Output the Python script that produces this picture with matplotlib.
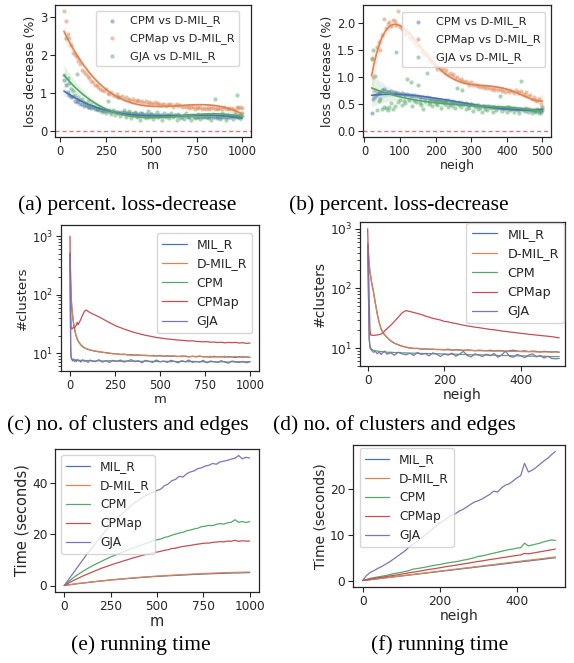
import numpy as np
import matplotlib
matplotlib.use("Agg")
import matplotlib.pyplot as plt
import seaborn as sns
import warnings
warnings.filterwarnings("ignore")

# ---------------- data ----------------
# (a) loss decrease vs m
m_a = list(range(20, 1001, 10))
cpm_a = [1.35, 1.20, 1.02, 0.95, 0.88, 0.92, 0.80, 0.76, 0.78, 0.70,
         0.72, 0.66, 0.68, 0.62, 0.64, 0.60, 0.62, 0.58, 0.57, 0.60,
         0.55, 0.56, 0.53, 0.55, 0.52, 0.54, 0.50, 0.52, 0.49, 0.51,
         0.48, 0.50, 0.47, 0.49, 0.46, 0.48, 0.45, 0.47, 0.44, 0.46,
         0.45, 0.43, 0.46, 0.44, 0.42, 0.45, 0.43, 0.41, 0.44, 0.42,
         0.43, 0.40, 0.43, 0.41, 0.42, 0.40, 0.43, 0.41, 0.39, 0.42,
         0.40, 0.41, 0.39, 0.42, 0.40, 0.38, 0.41, 0.39, 0.40, 0.38,
         0.41, 0.39, 0.37, 0.40, 0.38, 0.40, 0.37, 0.39, 0.38, 0.40,
         0.37, 0.39, 0.38, 0.36, 0.39, 0.37, 0.38, 0.36, 0.39, 0.37,
         0.38, 0.40, 0.37, 0.39, 0.38, 0.40, 0.39, 0.41, 0.40]
cpmap_a = [3.15, 2.90, 2.55, 2.45, 2.25, 2.05, 2.00, 1.95, 1.85, 1.75,
           1.60, 1.55, 1.50, 1.45, 1.38, 1.30, 1.28, 1.22, 1.20, 1.15,
           1.10, 1.08, 1.05, 1.10, 1.00, 0.98, 1.02, 0.95, 0.92, 0.96,
           0.90, 0.88, 0.92, 0.85, 0.88, 0.82, 0.85, 0.80, 0.83, 0.78,
           0.80, 0.82, 0.76, 0.78, 0.74, 0.79, 0.72, 0.76, 0.74, 0.70,
           0.75, 0.71, 0.73, 0.68, 0.72, 0.70, 0.66, 0.70, 0.68, 0.72,
           0.64, 0.67, 0.70, 0.65, 0.68, 0.63, 0.66, 0.62, 0.65, 0.60,
           0.64, 0.62, 0.58, 0.63, 0.60, 0.62, 0.58, 0.61, 0.59, 0.63,
           0.57, 0.60, 0.62, 0.58, 0.61, 0.57, 0.60, 0.58, 0.62, 0.57,
           0.60, 0.58, 0.61, 0.59, 0.56, 0.62, 0.60, 0.63, 0.61]
gja_a = [1.48, 2.45, 1.40, 1.25, 1.10, 1.05, 0.95, 1.50, 0.88, 0.82,
         0.85, 0.75, 0.72, 0.78, 0.65, 0.70, 0.62, 0.66, 0.58, 0.55,
         0.62, 0.50, 0.56, 0.48, 0.80, 0.52, 0.45, 0.55, 0.42, 0.50,
         0.88, 0.40, 0.48, 0.55, 0.38, 0.46, 0.52, 0.35, 0.44, 0.50,
         0.36, 0.42, 0.30, 0.48, 0.40, 0.34, 0.52, 0.38, 0.45, 0.32,
         0.42, 0.50, 0.36, 0.40, 0.30, 0.46, 0.38, 0.42, 0.33, 0.48,
         0.37, 0.41, 0.29, 0.44, 0.35, 0.39, 0.32, 0.47, 0.36, 0.40,
         0.30, 0.43, 0.34, 0.38, 0.45, 0.31, 0.40, 0.36, 0.42, 0.33,
         0.39, 0.29, 0.44, 0.83, 0.35, 0.40, 0.32, 0.46, 0.37, 0.30,
         0.42, 0.36, 0.40, 0.31, 0.45, 0.95, 0.38, 0.33, 0.48]

# (b) loss decrease vs neigh
n_b = list(range(20, 501, 5))
cpm_b = [0.34, 0.60, 0.65, 0.68, 0.72, 0.70, 0.76, 0.78, 0.74, 0.73,
         0.72, 0.74, 0.71, 0.72, 0.70, 0.71, 0.69, 0.70, 0.68, 0.67,
         0.68, 0.66, 0.67, 0.65, 0.66, 0.64, 0.65, 0.63, 0.62, 0.63,
         0.61, 0.62, 0.60, 0.61, 0.59, 0.60, 0.58, 0.59, 0.57, 0.58,
         0.56, 0.57, 0.55, 0.58, 0.54, 0.55, 0.53, 0.54, 0.52, 0.53,
         0.51, 0.52, 0.50, 0.51, 0.50, 0.49, 0.50, 0.48, 0.49, 0.47,
         0.48, 0.47, 0.46, 0.47, 0.45, 0.46, 0.45, 0.44, 0.45, 0.44,
         0.43, 0.44, 0.43, 0.42, 0.43, 0.42, 0.44, 0.41, 0.42, 0.41,
         0.42, 0.40, 0.41, 0.40, 0.41, 0.39, 0.40, 0.39, 0.40, 0.38,
         0.39, 0.38, 0.37, 0.38, 0.37, 0.36, 0.38]
cpmap_b = [1.35, 1.00, 0.75, 1.55, 1.65, 1.50, 1.78, 2.08, 1.90, 1.98,
           2.02, 1.95, 2.05, 2.03, 1.97, 2.22, 1.92, 1.88, 1.86, 1.80,
           1.82, 1.74, 1.70, 1.72, 1.64, 1.60, 1.55, 1.58, 1.48, 1.45,
           1.40, 1.42, 1.33, 1.30, 1.28, 1.24, 1.20, 1.15, 1.18, 1.12,
           1.14, 1.08, 1.12, 1.04, 1.07, 1.02, 1.05, 0.98, 1.00, 0.95,
           0.97, 0.92, 0.90, 0.93, 0.88, 0.86, 0.90, 0.85, 0.87, 0.83,
           0.86, 0.82, 0.84, 0.80, 0.83, 0.79, 0.82, 0.78, 0.80, 0.76,
           0.79, 0.75, 0.78, 0.74, 0.77, 0.73, 0.76, 0.72, 0.75, 0.74,
           0.71, 0.76, 0.73, 0.70, 0.74, 0.68, 0.66, 0.72, 0.64, 0.66,
           0.60, 0.63, 0.58, 0.55, 0.60, 0.50, 0.42]
gja_b = [1.33, 1.50, 1.02, 0.38, 0.55, 0.60, 0.40, 0.45, 0.42, 0.38,
         0.44, 0.52, 0.41, 0.46, 1.46, 0.53, 0.58, 0.49, 0.56, 0.52,
         0.97, 0.58, 0.90, 0.47, 0.57, 0.54, 0.85, 0.52, 0.48, 0.41,
         0.55, 1.07, 0.50, 0.54, 0.46, 0.58, 0.51, 0.48, 0.56, 0.43,
         0.53, 0.50, 0.55, 0.45, 0.50, 0.47, 0.53, 0.42, 0.80, 0.49,
         0.45, 0.75, 0.50, 0.40, 0.47, 0.43, 0.50, 0.37, 0.45, 0.48,
         0.40, 0.43, 0.36, 0.46, 0.41, 0.38, 0.47, 0.42, 0.35, 0.44,
         0.38, 0.42, 0.65, 0.37, 0.43, 0.40, 0.35, 0.45, 0.39, 0.42,
         0.36, 0.41, 0.38, 0.34, 0.93, 0.40, 0.37, 0.42, 0.35, 0.39,
         0.33, 0.38, 0.36, 0.41, 0.34, 0.39, 0.44]

# (c) number of clusters vs m
m_c = [0, 2, 4, 6, 8, 10, 15, 20, 25, 30, 35, 40, 45, 50, 60, 70, 80, 90, 100, 110] + list(range(120, 1001, 20))
milr_c = [500, 300, 160, 100, 75, 60, 42, 32, 26, 22, 19.5, 17.5, 16.2, 15.3, 13.9, 13.0, 12.4, 12.0, 11.7, 11.4,
          11.2, 10.9, 10.7, 10.4, 10.3, 10.0, 9.9, 9.8, 9.6, 9.7, 9.4, 9.5, 9.3, 9.4, 9.2,
          9.3, 9.1, 9.2, 9.0, 9.2, 8.9, 9.1, 8.9, 9.0, 8.8, 9.0, 8.9, 8.7, 8.9, 8.8,
          9.0, 8.7, 8.8, 8.6, 8.9, 8.7, 8.8, 8.6, 8.8, 8.7, 8.5, 8.8, 8.6, 8.7, 8.5]
dmilr_c = [520, 320, 170, 105, 78, 62, 44, 33, 27, 22.5, 19.8, 17.8, 16.4, 15.5, 14.1, 13.2, 12.5, 12.1, 11.8, 11.5,
           11.3, 11.0, 10.6, 10.5, 10.2, 10.1, 9.8, 9.9, 9.5, 9.6, 9.5, 9.3, 9.4, 9.2, 9.3,
           9.1, 9.2, 9.0, 9.1, 9.0, 9.0, 8.9, 9.1, 8.9, 8.9, 8.8, 9.0, 8.8, 8.9, 8.7,
           8.9, 8.8, 8.7, 8.9, 8.6, 8.8, 8.7, 8.9, 8.6, 8.7, 8.8, 8.6, 8.8, 8.7, 8.6]
cpm_c = [500, 60, 12, 9.0, 8.4, 8.1, 7.9, 7.8, 7.8, 7.7, 7.7, 7.6, 7.7, 7.6, 7.6, 7.5, 7.6, 7.5, 7.5, 7.5,
         7.5, 7.4, 7.5, 7.4, 7.4, 7.5, 7.4, 7.4, 7.3, 7.4, 7.4, 7.3, 7.4, 7.3, 7.3,
         7.4, 7.3, 7.3, 7.3, 7.2, 7.3, 7.3, 7.2, 7.3, 7.2, 7.3, 7.2, 7.2, 7.3, 7.2,
         7.2, 7.2, 7.1, 7.2, 7.2, 7.1, 7.2, 7.2, 7.1, 7.2, 7.1, 7.2, 7.1, 7.2, 7.2]
cpmap_c = [1000, 200, 50, 28, 27, 26, 27, 28, 27, 29, 30, 34, 31, 33, 38, 45, 52, 55, 52, 50,
           48, 45, 42, 39, 36, 33.5, 31, 29, 27.5, 26, 24.8, 23.6, 22.6, 21.8, 21,
           20.3, 19.8, 19.2, 18.7, 18.3, 18.0, 17.6, 17.4, 17.1, 16.9, 16.7, 16.5, 16.3, 16.4, 16.0,
           15.9, 15.7, 15.9, 15.5, 15.6, 15.3, 15.5, 15.1, 15.4, 15.2, 15.4, 15.0, 15.2, 14.8, 15.0]
gja_c = [500, 50, 11, 8.5, 8.0, 7.8, 7.4, 8.0, 7.3, 7.7, 7.2, 7.9, 7.4, 7.6, 7.1, 7.8, 7.3, 7.5, 7.0, 7.7,
         7.4, 7.2, 7.8, 7.1, 7.5, 7.0, 7.6, 7.3, 7.7, 7.1, 7.4, 7.8, 7.2, 7.5, 6.9,
         7.6, 7.3, 7.0, 7.7, 7.2, 7.4, 7.0, 7.6, 7.3, 6.9, 7.5, 7.2, 7.7, 7.0, 7.3,
         7.1, 7.6, 6.9, 7.4, 7.2, 7.0, 7.5, 7.1, 6.8, 7.4, 7.2, 7.0, 7.3, 6.9, 7.2]

# (d) number of clusters vs neigh
n_d = [0, 2, 4, 6, 8, 10, 15, 20, 25, 30, 35, 40, 45, 50] + list(range(60, 501, 10))
milr_d = [560, 400, 250, 190, 160, 130, 90, 57, 38, 27, 21, 18, 16.5, 15.2,
          13.2, 12.0, 11.3, 10.7, 10.3,
          10.0, 9.8, 9.9, 9.6, 9.7, 9.5, 9.6, 9.4, 9.5, 9.3, 9.6, 9.2, 9.4, 9.3, 9.1, 9.3, 9.2, 9.0, 9.2, 9.1,
          9.0, 9.2, 8.9, 9.1, 9.0, 8.8, 9.0, 9.2, 8.9, 8.8, 9.0, 8.7, 8.9, 8.8, 8.6, 8.8, 8.7, 8.6, 8.7, 8.5]
dmilr_d = [540, 390, 245, 185, 155, 128, 88, 56, 37, 26.5, 21, 18, 16.5, 15.3,
           13.3, 12.1, 11.4, 10.8, 10.4,
           10.1, 9.9, 9.8, 9.7, 9.6, 9.6, 9.5, 9.5, 9.4, 9.4, 9.3, 9.3, 9.3, 9.2, 9.2, 9.1, 9.1, 9.1, 9.0, 9.0,
           9.0, 8.9, 8.9, 8.9, 8.9, 8.8, 8.8, 8.8, 8.8, 8.7, 8.7, 8.7, 8.7, 8.6, 8.6, 8.6, 8.6, 8.5, 8.6, 8.5]
cpm_d = [550, 100, 15, 11, 10, 9.5, 9.2, 9.0, 8.9, 8.8, 8.7, 8.7, 8.6, 8.5,
         8.5, 8.4, 8.4, 8.3, 8.3,
         8.2, 8.2, 8.2, 8.1, 8.1, 8.1, 8.0, 8.0, 8.0, 7.9, 7.9, 7.9, 7.9, 7.8, 7.8, 7.8, 7.7, 7.7, 7.7, 7.7,
         7.6, 7.6, 7.6, 7.5, 7.5, 7.5, 7.5, 7.4, 7.4, 7.4, 7.4, 7.3, 7.3, 7.3, 7.3, 7.3, 7.2, 7.2, 7.2, 7.2]
cpmap_d = [1000, 300, 60, 20, 16.5, 16.5, 16.3, 16.4, 16.6, 16.8, 17.2, 18.0, 19.5, 21,
           24, 28, 33, 39, 42.5,
           41, 39.5, 38, 36.5, 34.5, 33, 31.5, 30.5, 29.5, 28, 27.5, 26.5, 25.8, 25, 24.2, 23.5, 23, 22.4, 22, 21.5,
           21, 20.5, 20.2, 19.8, 19.3, 19, 18.6, 18.3, 18, 17.6, 17.4, 17, 16.8, 16.5, 16.3, 16.0, 15.8, 15.5, 15.2, 14.8]
gja_d = [560, 80, 14, 10, 9.5, 9.2, 8.5, 8.8, 8.0, 8.6, 7.8, 8.4, 8.9, 7.9,
         8.3, 7.6, 8.5, 8.0, 7.7,
         8.2, 7.5, 8.4, 7.8, 8.1, 7.4, 8.3, 7.9, 7.2, 8.0, 7.6, 8.2, 7.3, 7.9, 8.8, 7.5, 7.1, 8.0, 7.6, 7.2,
         7.9, 7.4, 8.1, 7.0, 7.7, 8.9, 7.3, 7.0, 7.8, 7.4, 6.9, 7.6, 8.0, 7.1, 7.5, 6.8, 7.3, 6.7, 6.6, 6.7]

# (e) running time vs m
m_e = list(range(0, 1001, 20))
milr_e = [0, 0.2, 0.4, 0.6, 0.8, 0.95, 1.1, 1.3, 1.45, 1.6, 1.75, 1.9, 2.05, 2.2, 2.3, 2.45, 2.55, 2.7, 2.8, 2.9,
          3.05, 3.15, 3.25, 3.35, 3.45, 3.55, 3.6, 3.7, 3.8, 3.85, 3.95, 4.0, 4.1, 4.15, 4.25, 4.3, 4.35, 4.45,
          4.5, 4.55, 4.6, 4.65, 4.7, 4.75, 4.8, 4.85, 4.9, 4.9, 4.95, 5.0, 5.0]
dmilr_e = [0, 0.21, 0.42, 0.62, 0.82, 0.98, 1.14, 1.33, 1.49, 1.64, 1.8, 1.95, 2.1, 2.25, 2.37, 2.51, 2.62, 2.77,
           2.88, 2.99, 3.13, 3.24, 3.35, 3.45, 3.56, 3.66, 3.73, 3.83, 3.93, 3.99, 4.09, 4.15, 4.25, 4.31, 4.41,
           4.47, 4.53, 4.63, 4.68, 4.74, 4.8, 4.86, 4.91, 4.97, 5.02, 5.07, 5.12, 5.13, 5.18, 5.22, 5.23]
cpm_e = [0, 1.3, 2.5, 3.6, 4.6, 5.5, 6.4, 7.2, 8.0, 8.7, 9.4, 10.1, 10.8, 11.4, 12.0, 12.6, 13.2, 13.7, 14.3, 14.8,
         15.4, 15.9, 16.3, 16.9, 17.4, 17.8, 18.1, 18.7, 19.0, 19.6, 20.0, 20.4, 20.7, 21.3, 21.6, 22.0, 22.3, 22.9,
         23.1, 23.4, 23.3, 23.8, 24.1, 23.9, 24.4, 24.6, 25.6, 24.6, 24.9, 24.5, 24.9]
cpmap_e = [0, 0.8, 1.6, 2.3, 3.0, 3.7, 4.3, 4.9, 5.5, 6.1, 6.7, 7.2, 7.7, 8.2, 8.7, 9.1, 9.6, 10.0, 10.5, 10.9,
           11.3, 11.7, 12.1, 12.3, 12.8, 13.0, 13.3, 13.7, 13.9, 14.4, 14.5, 14.9, 15.2, 15.4, 15.6, 15.9, 16.1,
           16.3, 16.5, 16.5, 16.8, 16.9, 17.1, 17.0, 17.3, 17.2, 17.6, 17.2, 17.4, 17.3, 17.3]
gja_e = [0, 2.0, 4.0, 6.0, 8.0, 10.0, 12.0, 13.8, 15.6, 17.5, 19.2, 21.0, 22.6, 24.2, 25.7, 27.2, 28.4, 29.8, 31.0,
         32.2, 33.2, 34.3, 35.0, 35.6, 36.4, 37.0, 37.5, 38.8, 39.5, 40.8, 41.3, 42.5, 42.2, 43.5, 44.2, 44.6, 45.5,
         45.8, 46.5, 46.8, 47.5, 47.2, 48.1, 48.4, 48.7, 49.2, 49.5, 50.6, 49.3, 49.9, 49.6]

# (f) running time vs neigh
n_f = list(range(0, 501, 10))
milr_f = [0, 0.09, 0.19, 0.3, 0.39, 0.5, 0.6, 0.69, 0.8, 0.9, 0.99, 1.1, 1.2, 1.29, 1.4, 1.5, 1.59, 1.7, 1.8, 1.89,
          2.0, 2.1, 2.19, 2.3, 2.4, 2.49, 2.6, 2.7, 2.79, 2.9, 3.0, 3.09, 3.2, 3.3, 3.39, 3.5, 3.6, 3.69, 3.8, 3.9,
          3.99, 4.1, 4.22, 4.28, 4.4, 4.5, 4.59, 4.7, 4.8, 4.92, 4.98]
dmilr_f = [0, 0.11, 0.21, 0.31, 0.42, 0.52, 0.62, 0.72, 0.83, 0.93, 1.03, 1.14, 1.24, 1.34, 1.45, 1.55, 1.65, 1.76,
           1.86, 1.96, 2.07, 2.17, 2.27, 2.38, 2.48, 2.58, 2.69, 2.79, 2.89, 3.0, 3.1, 3.2, 3.31, 3.41, 3.51, 3.62,
           3.72, 3.82, 3.93, 4.03, 4.13, 4.24, 4.38, 4.44, 4.55, 4.65, 4.75, 4.86, 4.96, 5.06, 5.17]
cpm_f = [0, 0.25, 0.5, 0.65, 0.8, 0.95, 1.1, 1.3, 1.5, 1.65, 1.8, 2.0, 2.15, 2.5, 2.6, 2.75, 2.9, 3.05, 3.25, 3.4,
         3.5, 3.7, 3.85, 4.0, 4.1, 4.25, 4.45, 4.6, 4.8, 5.0, 5.3, 5.4, 5.6, 5.8, 6.0, 6.2, 6.4, 6.6, 6.8, 6.9,
         7.1, 7.2, 8.2, 7.6, 7.8, 8.0, 8.2, 8.5, 8.7, 8.9, 8.8]
cpmap_f = [0, 0.15, 0.3, 0.45, 0.6, 0.72, 0.85, 1.0, 1.12, 1.25, 1.4, 1.55, 1.7, 1.82, 1.95, 2.1, 2.25, 2.4, 2.52,
           2.65, 2.8, 2.95, 3.1, 3.22, 3.35, 3.5, 3.62, 3.75, 3.9, 4.05, 4.2, 4.3, 4.45, 4.6, 4.72, 4.85, 5.0, 5.1,
           5.25, 5.38, 5.5, 5.62, 5.95, 5.85, 6.0, 6.15, 6.3, 6.45, 6.6, 6.75, 6.9]
gja_f = [0, 1.1, 1.8, 2.2, 2.7, 3.1, 3.6, 4.1, 4.7, 5.3, 5.9, 6.5, 7.3, 7.9, 8.5, 9.2, 9.8, 10.5, 11.2, 11.9,
         12.6, 13.1, 13.7, 14.3, 14.6, 15.2, 15.6, 16.1, 16.7, 17.2, 17.5, 17.9, 18.4, 18.9, 19.6, 19.4, 20.3,
         20.9, 21.2, 21.8, 22.5, 23.0, 25.7, 23.8, 24.2, 24.8, 25.5, 26.2, 26.8, 27.6, 28.3]

method_names = ["MIL_R", "D-MIL_R", "CPM", "CPMap", "GJA"]
pair_names = ["CPM vs D-MIL_R", "CPMap vs D-MIL_R", "GJA vs D-MIL_R"]
captions = ["(a) percent. loss-decrease", "(b) percent. loss-decrease",
            "(c) no. of clusters and edges", "(d) no. of clusters and edges",
            "(e) running time", "(f) running time"]

# ---------------- style ----------------
sns.set_style("ticks")
pal = sns.color_palette("deep")
BLUE, ORANGE, GREEN, RED, PURPLE = pal[0], pal[1], pal[2], pal[3], pal[4]
TXT = "#262626"
plt.rcParams["font.family"] = ["DejaVu Sans"]

W, H = 574, 663
fig = plt.figure(figsize=(W / 100, H / 100), dpi=100)


def add_ax(l, t, r, b):
    return fig.add_axes([l / W, 1 - b / H, (r - l) / W, (b - t) / H])


def style(ax, tick, lab):
    for s in ax.spines.values():
        s.set_linewidth(0.9)
        s.set_color(TXT)
    ax.tick_params(labelsize=tick, length=3.5, width=0.8, pad=2, colors=TXT)
    ax.tick_params(which="minor", length=2, width=0.6)
    ax.xaxis.label.set_size(lab)
    ax.yaxis.label.set_size(lab)


def scatter_panel(ax, x, ys, orders, tick, lab, leg_fs, anchor):
    cols = [BLUE, ORANGE, GREEN]
    for y, c, name, od in zip(ys, cols, pair_names, orders):
        sns.regplot(x=np.array(x, float), y=np.array(y, float), ax=ax, order=od,
                    color=c, label=name, ci=95, n_boot=300, seed=0,
                    scatter_kws=dict(s=9, alpha=0.5, linewidths=0),
                    line_kws=dict(lw=1.2))
    ax.axhline(0, color=RED, ls="--", lw=1.0, alpha=0.75, dashes=(3, 2))
    ax.legend(loc="upper right", bbox_to_anchor=anchor, borderaxespad=0,
              fontsize=leg_fs, markerscale=1.0, handletextpad=0.6, labelspacing=0.6)
    style(ax, tick, lab)


# (a)
ax_a = add_ax(55, 5, 251, 137)
scatter_panel(ax_a, m_a, [cpm_a, cpmap_a, gja_a], [3, 3, 3], 8.3, 9, 8.2, (0.94, 0.955))
ax_a.set_xlabel("m", labelpad=1)
ax_a.set_ylabel("loss decrease (%)", labelpad=2)
ax_a.set_xticks([0, 250, 500, 750, 1000])
ax_a.set_yticks([0, 1, 2, 3])

# (b)
ax_b = add_ax(363, 5, 551, 137)
scatter_panel(ax_b, n_b, [cpm_b, cpmap_b, gja_b], [3, 5, 3], 8.3, 9, 8.2, (0.968, 0.947))
ax_b.set_xlabel("neigh", labelpad=1)
ax_b.set_ylabel("loss decrease (%)", labelpad=2)
ax_b.set_xticks([0, 100, 200, 300, 400, 500])
ax_b.set_yticks([0.0, 0.5, 1.0, 1.5, 2.0])


def line_panel(ax, x, ys, tick, lab, leg_fs, loc, anchor):
    cols = [BLUE, ORANGE, GREEN, RED, PURPLE]
    for y, c, name in zip(ys, cols, method_names):
        ax.plot(x, y, color=c, lw=0.9, label=name)
    ax.legend(loc=loc, bbox_to_anchor=anchor, borderaxespad=0, fontsize=leg_fs,
              handlelength=2.0, labelspacing=0.5)
    style(ax, tick, lab)


# (c)
ax_c = add_ax(61, 225, 259, 371)
line_panel(ax_c, m_c, [milr_c, dmilr_c, cpm_c, cpmap_c, gja_c], 8.3, 9.5, 9, "upper right", (0.965, 0.945))
ax_c.set_yscale("log")
ax_c.set_ylim(5, 1550)
ax_c.set_xlim(-50, 1050)
ax_c.set_xticks([0, 250, 500, 750, 1000])
ax_c.set_xlabel("m", labelpad=1)
ax_c.set_ylabel("#clusters", labelpad=2)

# (d)
ax_d = add_ax(360, 222, 565, 366)
line_panel(ax_d, n_d, [milr_d, dmilr_d, cpm_d, cpmap_d, gja_d], 8.8, 10, 9.2, "upper right", (0.995, 0.995))
ax_d.set_yscale("log")
ax_d.set_ylim(5, 1300)
ax_d.set_xlim(-20, 515)
ax_d.set_xticks([0, 200, 400])
ax_d.set_xlabel("neigh", labelpad=1)
ax_d.set_ylabel("#clusters", labelpad=2)

# (e)
ax_e = add_ax(55, 449, 259, 592)
line_panel(ax_e, m_e, [milr_e, dmilr_e, cpm_e, cpmap_e, gja_e], 8.7, 10.5, 8.8, "upper left", (0.03, 0.958))
ax_e.set_xticks([0, 250, 500, 750, 1000])
ax_e.set_yticks([0, 20, 40])
ax_e.set_xlabel("m", labelpad=1)
ax_e.set_ylabel("Time (seconds)", labelpad=2)

# (f)
ax_f = add_ax(353, 445, 565, 587)
line_panel(ax_f, n_f, [milr_f, dmilr_f, cpm_f, cpmap_f, gja_f], 8.8, 10, 8.8, "upper left", (0.033, 0.979))
ax_f.set_xticks([0, 200, 400])
ax_f.set_yticks([0, 10, 20])
ax_f.set_xlabel("neigh", labelpad=1)
ax_f.set_ylabel("Time (seconds)", labelpad=2)

# captions
cap_pos = [(127, 205), (399, 205), (128, 425), (394, 425), (141, 645), (440, 645)]
for (cx, cy), txt in zip(cap_pos, captions):
    fig.text(cx / W, 1 - cy / H, txt, ha="center", va="center", fontsize=15.5,
             family=["Liberation Serif", "DejaVu Serif"], color="black")

fig.savefig("out.png", dpi=100)
